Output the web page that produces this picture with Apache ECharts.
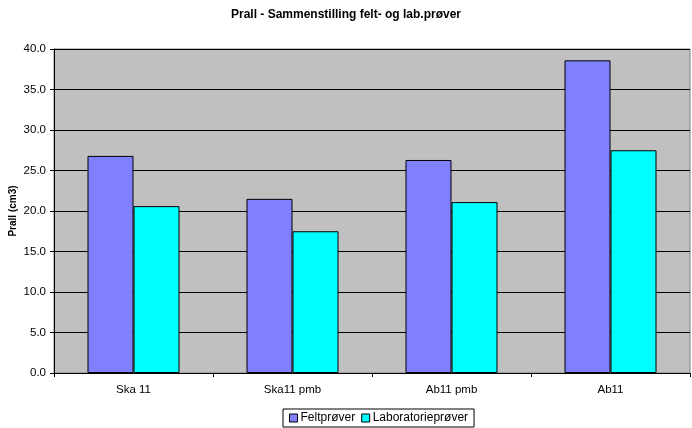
<!DOCTYPE html>
<html><head><meta charset="utf-8">
<script src="https://cdn.jsdelivr.net/npm/echarts@6/dist/echarts.min.js"></script>
<style>html,body{margin:0;padding:0;background:#fff}#c{width:692px;height:428px}</style>
</head><body><div id="c"></div>
<script>
var categories = ['Ska 11', 'Ska11 pmb', 'Ab11 pmb', 'Ab11'];
var feltprover = [26.8, 21.5, 26.3, 38.6];
var laboratorieprover = [20.6, 17.5, 21.1, 27.5];
var seriesNames = ['Feltprøver', 'Laboratorieprøver'];
var font = 'Liberation Sans, Arial, sans-serif';
var chart = echarts.init(document.getElementById('c'));
chart.setOption({
  animation: false,
  title: {text: 'Prall - Sammenstilling felt- og lab.prøver', left: 'center', top: 4,
    textStyle: {fontFamily: font, fontSize: 12, fontWeight: 'bold', color: '#000'}},
  legend: {bottom: 1, left: 283, icon: 'rect', itemWidth: 8, itemHeight: 8, itemGap: 6,
    borderColor: '#000', borderWidth: 1, padding: [3, 6, 3, 6],
    textStyle: {fontFamily: font, fontSize: 12, color: '#000', padding: [0, 0, 0, -2]},
    data: seriesNames.map(function(n){return {name: n, icon: 'rect', itemStyle: {borderColor: '#000', borderWidth: 1}};})},
  grid: {left: 54, right: 2, top: 49, bottom: 55, outerBoundsMode: 'none', containLabel: false,
    show: true, backgroundColor: '#C0C0C0', borderColor: '#808080', borderWidth: 1},
  xAxis: {type: 'category', data: categories,
    axisLine: {lineStyle: {color: '#000'}},
    axisTick: {show: true, length: 4, lineStyle: {color: '#000'}},
    axisLabel: {fontFamily: font, fontSize: 11.5, color: '#000', margin: 11}},
  yAxis: {type: 'value', min: 0, max: 40, interval: 5,
    name: 'Prall (cm3)', nameLocation: 'middle', nameGap: 36, nameRotate: 90, nameMoveOverlap: false,
    nameTextStyle: {fontFamily: font, fontSize: 10, fontWeight: 'bold', color: '#000'},
    axisLine: {show: true, lineStyle: {color: '#000'}},
    axisTick: {show: true, length: 4, lineStyle: {color: '#000'}},
    axisLabel: {fontFamily: font, fontSize: 11.5, color: '#000', margin: 8, formatter: function(v){return v.toFixed(1);}},
    splitLine: {lineStyle: {color: '#000', width: 1}}},
  series: [
    {name: seriesNames[0], type: 'bar', data: feltprover, barWidth: 46, barGap: '0%',
      itemStyle: {color: '#8080FF', borderColor: '#000', borderWidth: 1}},
    {name: seriesNames[1], type: 'bar', data: laboratorieprover, barWidth: 46,
      itemStyle: {color: '#00FFFF', borderColor: '#000', borderWidth: 1}}
  ]
});
</script></body></html>
